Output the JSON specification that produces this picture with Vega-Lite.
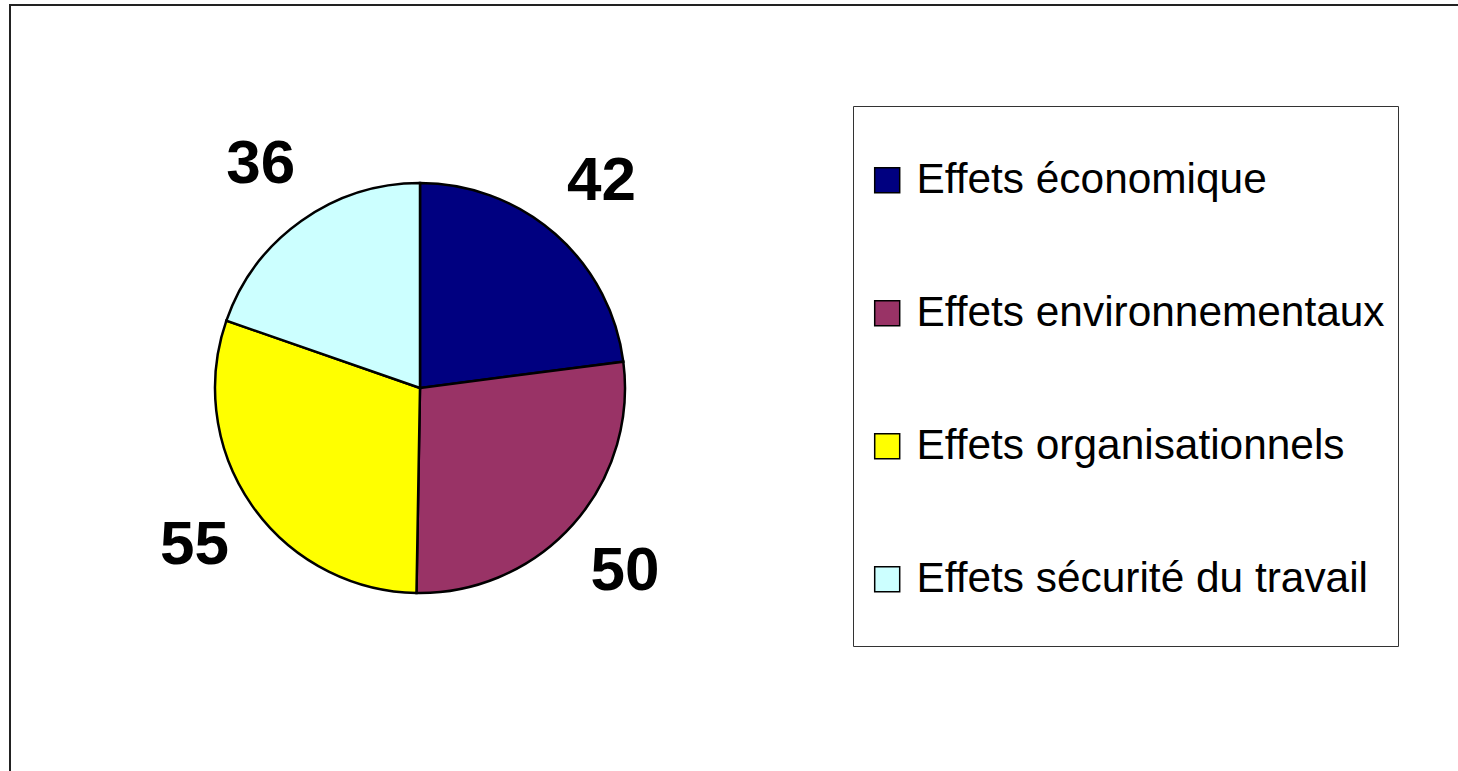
{
  "$schema": "https://vega.github.io/schema/vega-lite/v6.json",
  "width": 1453,
  "height": 771,
  "autosize": {"type": "none"},
  "padding": {"left": 10, "top": 5, "right": -5, "bottom": -5},
  "background": "white",
  "view": {"stroke": "#222222", "strokeWidth": 2, "fill": "white"},
  "config": {
    "font": "Liberation Sans"
  },
  "data": {
    "values": [
      {"categorie": "Effets économique", "valeur": 42, "ordre": 1},
      {"categorie": "Effets environnementaux", "valeur": 50, "ordre": 2},
      {"categorie": "Effets organisationnels", "valeur": 55, "ordre": 3},
      {"categorie": "Effets sécurité du travail", "valeur": 36, "ordre": 4}
    ]
  },
  "encoding": {
    "theta": {"field": "valeur", "type": "quantitative", "stack": true},
    "order": {"field": "ordre", "type": "ordinal"}
  },
  "layer": [
    {
      "mark": {"type": "arc", "outerRadius": 205, "x": 410, "y": 383, "stroke": "black", "strokeWidth": 2.5, "opacity": 1},
      "encoding": {
        "color": {
          "field": "categorie",
          "type": "nominal",
          "scale": {
            "domain": ["Effets économique", "Effets environnementaux", "Effets organisationnels", "Effets sécurité du travail"],
            "range": ["#000080", "#993366", "#FFFF00", "#CCFFFF"]
          },
          "legend": {
            "orient": "none",
            "legendX": 843,
            "legendY": 101,
            "title": " ",
            "titleFontSize": 20,
            "titlePadding": 20,
            "padding": 13,
            "strokeColor": "#333333",
            "fillColor": "white",
            "symbolType": "M0,-4M-1,-1H1V1H-1ZM0,4",
            "symbolSize": 625,
            "symbolStrokeColor": "black",
            "symbolStrokeWidth": 1.5,
            "symbolOpacity": 1,
            "labelFont": "Liberation Sans",
            "labelFontSize": 42.4,
            "labelColor": "black",
            "labelOffset": 8,
            "labelLimit": 0,
            "rowPadding": 26
          }
        }
      }
    },
    {
      "mark": {"type": "text", "radius": 275, "x": 410, "y": 383, "fontSize": 62, "fontWeight": "bold", "font": "Liberation Sans", "color": "black"},
      "encoding": {
        "text": {"field": "valeur", "type": "quantitative"}
      }
    }
  ]
}
